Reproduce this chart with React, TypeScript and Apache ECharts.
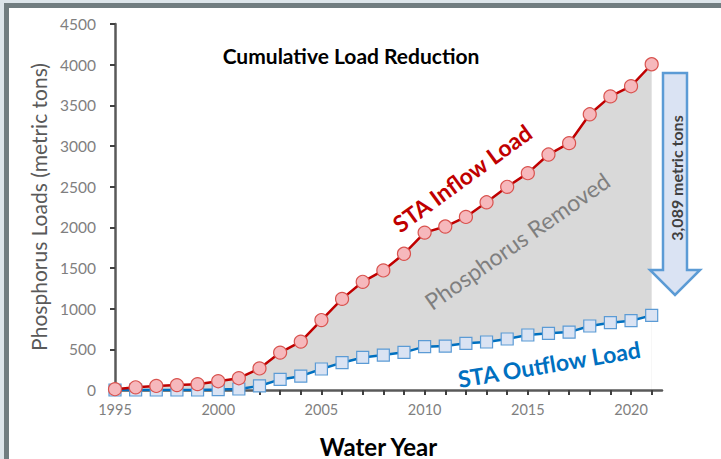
import React, { useEffect, useRef } from "react";
import * as echarts from "echarts";

const years = [1995, 1996, 1997, 1998, 1999, 2000, 2001, 2002, 2003, 2004, 2005, 2006, 2007, 2008, 2009, 2010, 2011, 2012, 2013, 2014, 2015, 2016, 2017, 2018, 2019, 2020, 2021];
const inflow = [10, 33, 50, 60, 72, 108, 145, 265, 460, 595, 860, 1120, 1330, 1470, 1675, 1935, 2010, 2128, 2308, 2498, 2666, 2895, 3035, 3390, 3610, 3735, 4005];
const outflow = [0, 0, 0, 0, 0, 5, 12, 50, 130, 170, 258, 336, 400, 430, 463, 533, 540, 574, 590, 627, 676, 697, 712, 787, 828, 852, 918];
const yTicks = [0, 500, 1000, 1500, 2000, 2500, 3000, 3500, 4000, 4500];
const xLabelYears = [1995, 2000, 2005, 2010, 2015, 2020];

const FONT = "Lato, 'Open Sans', sans-serif";

export default function App() {
  const ref = useRef<HTMLDivElement>(null);
  useEffect(() => {
    if (!ref.current) return;
    const chart = echarts.init(ref.current, null, { renderer: "svg" });
    const deg = Math.PI / 180;
    chart.setOption({
      animation: false,
      backgroundColor: "#ffffff",
      grid: { left: 115, right: 59, top: 24, bottom: 69, containLabel: false, outerBoundsMode: "none" },
      xAxis: {
        type: "value",
        min: 1995,
        max: 2021.5,
        interval: 5,
        z: 3,
        name: "Water Year",
        nameLocation: "middle",
        nameGap: 44,
        nameTextStyle: { fontFamily: FONT, fontSize: 24, fontWeight: "bold", color: "#000000", padding: [0, 20, 0, 0] },
        axisLine: { lineStyle: { color: "#595959", width: 2.5 } },
        axisTick: { show: true, length: 5, customValues: years, lineStyle: { color: "#404040", width: 2 } },
        axisLabel: {
          customValues: xLabelYears,
          fontFamily: FONT,
          fontSize: 14.5,
          color: "#7f7f7f",
          margin: 12,
          formatter: (v: number) => String(v),
        },
        splitLine: { show: false },
      },
      yAxis: {
        type: "value",
        min: yTicks[0],
        max: yTicks[yTicks.length - 1],
        interval: 500,
        z: 3,
        name: "Phosphorus Loads (metric tons)",
        nameLocation: "middle",
        nameGap: 66,
        nameTextStyle: { fontFamily: FONT, fontSize: 21, color: "#595959" },
        axisLine: { show: true, lineStyle: { color: "#595959", width: 2.5 } },
        axisTick: { show: true, length: 5, lineStyle: { color: "#404040", width: 2 } },
        axisLabel: { fontFamily: FONT, fontSize: 15.5, color: "#7f7f7f", margin: 19, formatter: (v: number) => String(v) },
        splitLine: { show: false },
      },
      series: [
        {
          type: "line",
          data: years.map((y, i) => [y, inflow[i]]),
          symbol: "none",
          lineStyle: { opacity: 0 },
          areaStyle: { color: "#d9d9d9", opacity: 1 },
          silent: true,
          z: 1,
        },
        {
          type: "line",
          data: years.map((y, i) => [y, outflow[i]]),
          symbol: "none",
          lineStyle: { opacity: 0 },
          areaStyle: { color: "#ffffff", opacity: 1 },
          silent: true,
          z: 2,
        },
        {
          type: "line",
          name: "STA Outflow Load",
          data: years.map((y, i) => [y, outflow[i]]),
          symbol: "rect",
          symbolSize: 12,
          lineStyle: { color: "#0070c0", width: 2.5 },
          itemStyle: { color: "#dae3f3", borderColor: "#5b9bd5", borderWidth: 1.2 },
          z: 4,
        },
        {
          type: "line",
          name: "STA Inflow Load",
          data: years.map((y, i) => [y, inflow[i]]),
          symbol: "circle",
          symbolSize: 13,
          lineStyle: { color: "#c00000", width: 2.5 },
          itemStyle: { color: "#f6b8bc", borderColor: "#d9534f", borderWidth: 1.2 },
          z: 5,
        },
      ],
      graphic: [
        { type: "rect", shape: { x: 0, y: 0, width: 721, height: 3 }, style: { fill: "#dde5ea" }, z: 100 },
        { type: "rect", shape: { x: 0, y: 0, width: 4, height: 459 }, style: { fill: "#dde5ea" }, z: 100 },
        { type: "rect", shape: { x: 4, y: 3, width: 717, height: 5 }, style: { fill: "#717d80" }, z: 100 },
        { type: "rect", shape: { x: 4, y: 3, width: 5, height: 456 }, style: { fill: "#717d80" }, z: 100 },
        {
          type: "text",
          x: 351,
          y: 55,
          style: { text: "Cumulative Load Reduction", x: 0, y: 0, align: "center", verticalAlign: "middle", font: `bold 21px ${FONT}`, fill: "#000000" },
          z: 50,
        },
        {
          type: "text",
          x: 462,
          y: 178,
          rotation: 36 * deg,
          style: { text: "STA Inflow Load", x: 0, y: 0, align: "center", verticalAlign: "middle", font: `bold 23px ${FONT}`, fill: "#c00000" },
          z: 50,
        },
        {
          type: "text",
          x: 517,
          y: 241,
          rotation: 35 * deg,
          style: { text: "Phosphorus Removed", x: 0, y: 0, align: "center", verticalAlign: "middle", font: `23px ${FONT}`, fill: "#7f7f7f" },
          z: 50,
        },
        {
          type: "text",
          x: 549,
          y: 364,
          rotation: 9.5 * deg,
          style: { text: "STA Outflow Load", x: 0, y: 0, align: "center", verticalAlign: "middle", font: `bold 23px ${FONT}`, fill: "#0070c0" },
          z: 50,
        },
        {
          type: "polygon",
          shape: {
            points: [
              [663, 73], [687, 73], [687, 270], [700, 270], [675, 295], [650, 270], [663, 270],
            ],
          },
          style: { fill: "#dae3f3", stroke: "#5b9bd5", lineWidth: 2.5 },
          z: 50,
        },
        {
          type: "text",
          x: 676,
          y: 178,
          rotation: 90 * deg,
          style: { text: "3,089 metric tons", x: 0, y: 0, align: "center", verticalAlign: "middle", font: `bold 16px ${FONT}`, fill: "#404040" },
          z: 51,
        },
      ],
    });
    return () => chart.dispose();
  }, []);
  return (
    <div
      ref={ref}
      style={{ position: "fixed", left: 0, top: 0, width: 721, height: 459, background: "#ffffff" }}
    />
  );
}
